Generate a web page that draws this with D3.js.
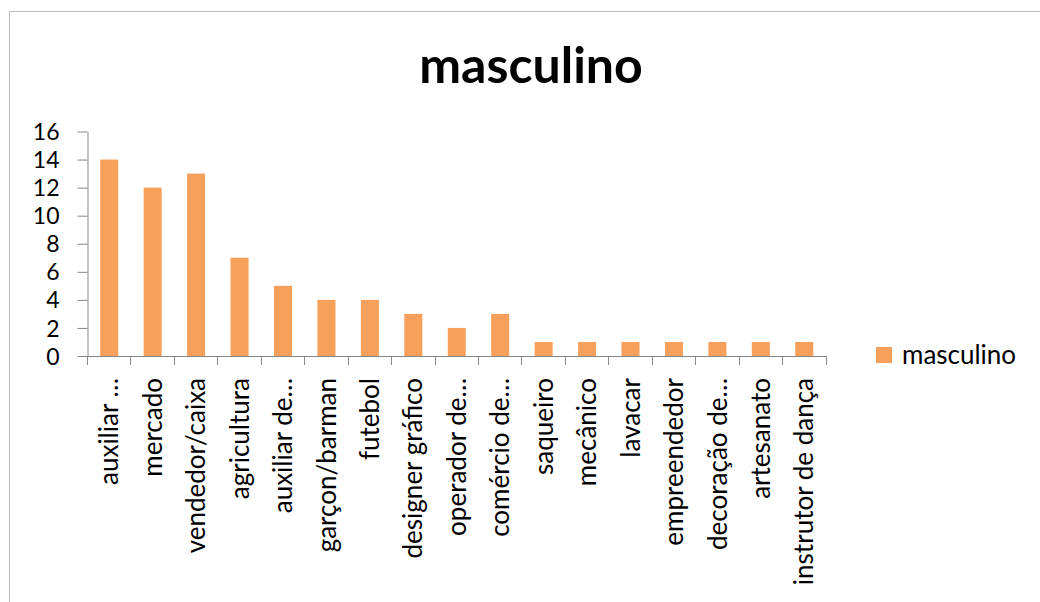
<!DOCTYPE html>
<html>
<head>
<meta charset="utf-8">
<script src="https://cdn.jsdelivr.net/npm/d3@7"></script>
<style>
  html, body { margin: 0; padding: 0; background: #fff; }
  svg { display: block; font-family: Lato, "Open Sans", sans-serif; }
</style>
</head>
<body>
<svg id="chart" width="1040" height="602"></svg>
<script>
// Ocupações citadas (masculino)
const categories = [
  "auxiliar …", "mercado", "vendedor/caixa", "agricultura", "auxiliar de…",
  "garçon/barman", "futebol", "designer gráfico", "operador de…", "comércio de…",
  "saqueiro", "mecânico", "lavacar", "empreendedor", "decoração de…",
  "artesanato", "instrutor de dança"
];
const values = [14, 12, 13, 7, 5, 4, 4, 3, 2, 3, 1, 1, 1, 1, 1, 1, 1];
const yTicks = [0, 2, 4, 6, 8, 10, 12, 14, 16];
const seriesName = "masculino";
const chartTitle = "masculino";

const svg = d3.select("#chart");
const W = 1040, H = 602;
const plot = { left: 87.5, right: 826, top: 131.5, bottom: 356 };
const barColor = "#F7A05B";
const axisColor = "#868686";
const font = "Lato, 'Open Sans', sans-serif";

svg.append("rect").attr("width", W).attr("height", H).attr("fill", "#fff");
// chart frame
svg.append("rect")
  .attr("x", 9.5).attr("y", 11.5)
  .attr("width", W + 20).attr("height", H + 20)
  .attr("fill", "none").attr("stroke", "#bcbcbc").attr("stroke-width", 1);

// title
svg.append("text")
  .attr("x", 531).attr("y", 83)
  .attr("text-anchor", "middle")
  .attr("font-size", 50).attr("font-weight", 700)
  .attr("fill", "#000")
  .text(chartTitle);

const x = d3.scaleBand()
  .domain(categories)
  .range([plot.left, plot.right])
  .paddingInner(0.585)
  .paddingOuter(0.2925);

const y = d3.scaleLinear()
  .domain([0, 16])
  .range([plot.bottom, plot.top]);

// bars
svg.append("g").selectAll("rect")
  .data(categories)
  .join("rect")
  .attr("x", d => x(d))
  .attr("width", x.bandwidth())
  .attr("y", (d, i) => y(values[i]))
  .attr("height", (d, i) => y(0) - y(values[i]))
  .attr("fill", barColor);

// y axis
const yAxis = svg.append("g")
  .attr("transform", `translate(${plot.left},0)`)
  .call(d3.axisLeft(y).tickValues(yTicks).tickSize(10).tickPadding(18).tickSizeOuter(0));
yAxis.select(".domain").attr("stroke", axisColor);
yAxis.selectAll(".tick line").attr("stroke", axisColor);
yAxis.selectAll(".tick text")
  .attr("font-family", font)
  .attr("font-size", 23).attr("fill", "#000").attr("dy", "0.35em");

// x axis: labels at band centres, ticks at band boundaries
const xAxis = svg.append("g")
  .attr("transform", `translate(0,${plot.bottom})`)
  .call(d3.axisBottom(x).tickSize(0).tickSizeOuter(0));
xAxis.select(".domain").remove();
xAxis.append("line")
  .attr("x1", plot.left).attr("x2", plot.right)
  .attr("y1", 0.5).attr("y2", 0.5)
  .attr("stroke", axisColor);
const bounds = d3.range(categories.length + 1).map(i => x.range()[0] + i * x.step());
xAxis.selectAll(".bound")
  .data(bounds)
  .join("line")
  .attr("class", "bound")
  .attr("x1", d => Math.round(d - 0.5) + 0.5).attr("x2", d => Math.round(d - 0.5) + 0.5)
  .attr("y1", 0).attr("y2", 9)
  .attr("stroke", axisColor);
xAxis.selectAll(".tick text")
  .attr("font-family", font)
  .attr("font-size", 26).attr("fill", "#000")
  .attr("text-anchor", "end")
  .attr("transform", "rotate(-90)")
  .attr("x", -22).attr("y", 0).attr("dy", "0.35em");

// legend
const legend = svg.append("g").attr("transform", "translate(876,347)");
legend.append("rect").attr("width", 16).attr("height", 16).attr("fill", barColor);
legend.append("text")
  .attr("x", 26).attr("y", 8).attr("dy", "0.35em")
  .attr("font-size", 26).attr("fill", "#000")
  .text(seriesName);
</script>
</body>
</html>
